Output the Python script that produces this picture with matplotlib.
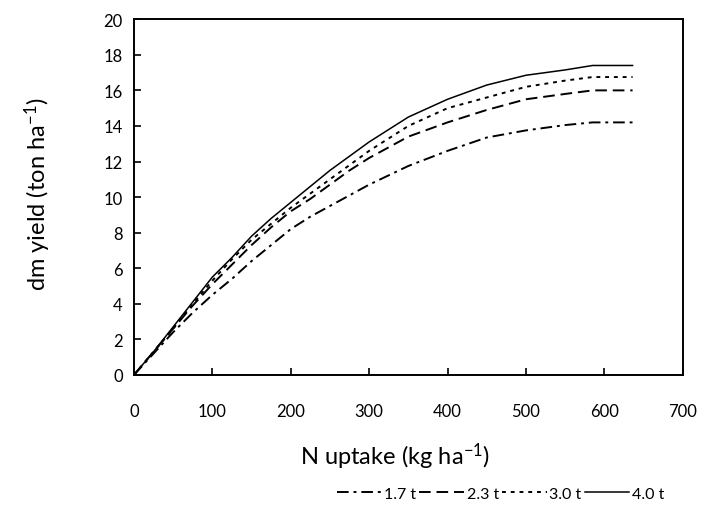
import matplotlib
matplotlib.use("Agg")
import matplotlib.pyplot as plt

plt.rcParams['font.family'] = ['Lato', 'DejaVu Sans']
plt.rcParams['mathtext.fontset'] = 'custom'
plt.rcParams['mathtext.rm'] = 'Lato'
plt.rcParams['mathtext.it'] = 'Lato'

n_uptake = [0, 25, 50, 75, 100, 125, 150, 175, 200, 225, 250, 275, 300,
            350, 400, 450, 500, 550, 585, 636]
y_17 = [0, 1.2, 2.4, 3.5, 4.5, 5.4, 6.4, 7.3, 8.2, 8.9, 9.5, 10.1, 10.7,
        11.75, 12.6, 13.35, 13.75, 14.05, 14.2, 14.2]
y_23 = [0, 1.3, 2.6, 3.9, 5.1, 6.2, 7.3, 8.3, 9.2, 9.9, 10.7, 11.5, 12.2,
        13.4, 14.2, 14.9, 15.5, 15.8, 16.0, 16.0]
y_30 = [0, 1.3, 2.6, 4.0, 5.3, 6.5, 7.6, 8.5, 9.4, 10.2, 11.0, 11.8, 12.6,
        14.0, 15.0, 15.6, 16.2, 16.55, 16.75, 16.75]
y_40 = [0, 1.3, 2.7, 4.1, 5.5, 6.6, 7.8, 8.8, 9.7, 10.6, 11.5, 12.3, 13.1,
        14.5, 15.5, 16.3, 16.85, 17.15, 17.4, 17.4]
labels = ['1.7 t', '2.3 t', '3.0 t', '4.0 t']
x_ticks = [0, 100, 200, 300, 400, 500, 600, 700]
y_ticks = [0, 2, 4, 6, 8, 10, 12, 14, 16, 18, 20]

fig = plt.figure(figsize=(7.01, 5.06), dpi=100)
ax = fig.add_axes([0.191, 0.257, 0.783, 0.703])

ax.plot(n_uptake, y_17, color='black', lw=1.4, dashes=(6, 2.5, 1.5, 2.5), label=labels[0])
ax.plot(n_uptake, y_23, color='black', lw=1.4, dashes=(6, 3), label=labels[1])
ax.plot(n_uptake, y_30, color='black', lw=1.4, dashes=(2, 2.5), label=labels[2])
ax.plot(n_uptake, y_40, color='black', lw=1.1, label=labels[3])

ax.set_xlim(0, 700)
ax.set_ylim(0, 20)
ax.set_xticks(x_ticks)
ax.set_yticks(y_ticks)
ax.tick_params(direction='in', length=5, width=1.2, labelsize=12, color='black')
ax.tick_params(axis='x', pad=20)
ax.tick_params(axis='y', pad=8)
for s in ax.spines.values():
    s.set_linewidth(1.4)

ax.set_xlabel('N uptake (kg ha$^{-1}$)', fontsize=17)
ax.set_ylabel('dm yield (ton ha$^{-1}$)', fontsize=17)
ax.xaxis.set_label_coords(0.475, -0.228)
ax.xaxis.label.set_va('center')
ax.yaxis.set_label_coords(-0.175, 0.51)
ax.yaxis.label.set_va('center')

fig.legend(loc='center', bbox_to_anchor=(0.714, 0.022), ncol=4, frameon=False,
           fontsize=11.5, handlelength=2.8, handletextpad=0.15, columnspacing=0.2)

fig.savefig('out.png', dpi=100)
